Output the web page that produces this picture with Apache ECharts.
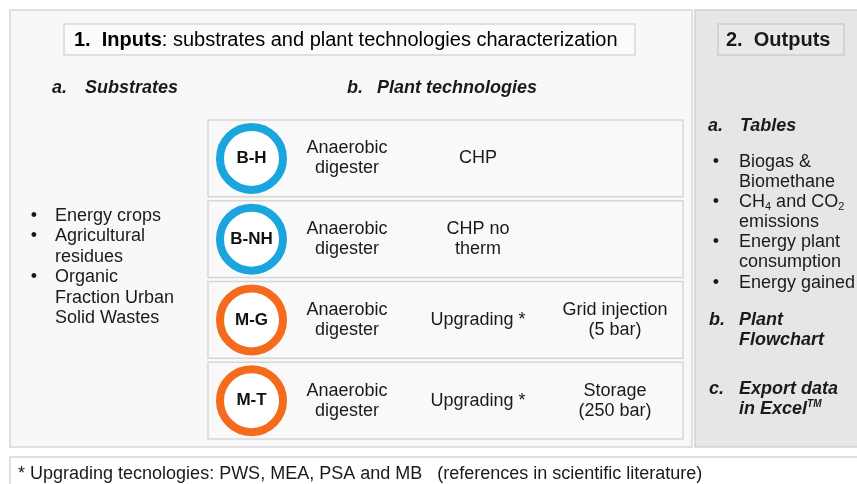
<!DOCTYPE html>
<html>
<head>
<meta charset="utf-8">
<script src="https://cdn.jsdelivr.net/npm/echarts@6/dist/echarts.min.js"></script>
<style>
  html, body { margin: 0; padding: 0; background: #ffffff; }
  #main { width: 857px; height: 484px; }
</style>
</head>
<body>
<div id="main"></div>
<script>
// plant technologies (one row each)
const plantCodes = ["B-H", "B-NH", "M-G", "M-T"];
const digesterText = ["Anaerobic\ndigester", "Anaerobic\ndigester", "Anaerobic\ndigester", "Anaerobic\ndigester"];
const processText = ["CHP", "CHP no\ntherm", "Upgrading *", "Upgrading *"];
const finalText = ["", "", "Grid injection\n(5 bar)", "Storage\n(250 bar)"];
const ringColors = ["#1aa5df", "#1aa5df", "#f46b1b", "#f46b1b"];

// substrates list
const substrates = ["Energy crops", "Agricultural\nresidues", "Organic\nFraction Urban\nSolid Wastes"];

// outputs
const outputTables = ["Biogas &\nBiomethane", "{n|CH}{s|4}{n| and CO}{s|2}\n{n|emissions}", "Energy plant\nconsumption", "Energy gained"];
const outputSections = [["b.", "Plant\nFlowchart"], ["c.", "Export data\n{n|in Excel}{t|TM}"]];

const footNote = "* Upgrading tecnologies: PWS, MEA, PSA and MB   (references in scientific literature)";

// column x positions inside the plant grid (px from grid left)
const colX = [43.5, 139, 270, 407];

const FONT = "Liberation Sans, Arial, sans-serif";
const TXT = "#1a1a1a";

const chart = echarts.init(document.getElementById("main"));

// 列表文字（逐行堆叠）
function listItems(items, bulletX, textX, y0, lh, rich) {
  let out = [];
  let line = 0;
  items.forEach((it) => {
    const y = y0 + line * lh;
    out.push({ type: "text", style: { text: "\u2022", x: bulletX, y: y, font: "18px " + FONT, fill: TXT, align: "center", verticalAlign: "middle" } });
    out.push({ type: "text", style: { text: it, x: textX, y: y - lh / 2, font: "18px " + FONT, fill: TXT, lineHeight: lh, verticalAlign: "top", rich: rich } });
    line += it.split("\n").length;
  });
  return out;
}

const richSub = {
  n: { fontSize: 18, fontFamily: FONT, color: TXT, lineHeight: 20 },
  s: { fontSize: 11, fontFamily: FONT, color: TXT, verticalAlign: "bottom", lineHeight: 11 },
};
const richOut = {
  n: { fontSize: 18, fontFamily: FONT, fontWeight: "bold", fontStyle: "italic", color: TXT, lineHeight: 20 },
  t: { fontSize: 10, fontFamily: FONT, fontWeight: "bold", fontStyle: "italic", color: TXT, verticalAlign: "top", lineHeight: 20 },
};

let graphics = [
  // panels
  { type: "rect", shape: { x: 10, y: 10, width: 682, height: 437 }, style: { fill: "#f8f8f8", stroke: "#d6d6d6", lineWidth: 1.5 } },
  { type: "rect", shape: { x: 695, y: 10, width: 175, height: 437 }, style: { fill: "#e6e6e6", stroke: "#d2d2d2", lineWidth: 1.5 } },
  { type: "rect", shape: { x: 64, y: 24, width: 571, height: 31 }, style: { fill: "#fbfbfb", stroke: "#d8d8d8", lineWidth: 1.5 } },
  { type: "rect", shape: { x: 718, y: 24, width: 126, height: 31 }, style: { fill: "#e9e9e9", stroke: "#cdcdcd", lineWidth: 1.5 } },
  { type: "rect", shape: { x: 10, y: 457, width: 870, height: 40 }, style: { fill: "#ffffff", stroke: "#d6d6d6", lineWidth: 1.5 } },
  // titles
  {
    type: "text",
    style: {
      text: "{b|1.  Inputs}{r|: substrates and plant technologies characterization}",
      x: 74, y: 40, verticalAlign: "middle",
      rich: {
        b: { fontSize: 20, fontFamily: FONT, fontWeight: "bold", color: TXT },
        r: { fontSize: 20, fontFamily: FONT, color: TXT },
      },
    },
  },
  { type: "text", style: { text: "2.  Outputs", x: 726, y: 40, verticalAlign: "middle", font: "bold 20px " + FONT, fill: TXT } },
  // section headers
  { type: "text", style: { text: "a.", x: 52, y: 88, verticalAlign: "middle", font: "italic bold 18px " + FONT, fill: TXT } },
  { type: "text", style: { text: "Substrates", x: 85, y: 88, verticalAlign: "middle", font: "italic bold 18px " + FONT, fill: TXT } },
  { type: "text", style: { text: "b.", x: 347, y: 88, verticalAlign: "middle", font: "italic bold 18px " + FONT, fill: TXT } },
  { type: "text", style: { text: "Plant technologies", x: 377, y: 88, verticalAlign: "middle", font: "italic bold 18px " + FONT, fill: TXT } },
  { type: "text", style: { text: "a.", x: 708, y: 126, verticalAlign: "middle", font: "italic bold 18px " + FONT, fill: TXT } },
  { type: "text", style: { text: "Tables", x: 740, y: 126, verticalAlign: "middle", font: "italic bold 18px " + FONT, fill: TXT } },
  // footnote
  { type: "text", style: { text: footNote, x: 18, y: 474, verticalAlign: "middle", font: "18px " + FONT, fill: TXT } },
];

graphics = graphics.concat(listItems(substrates, 34, 55, 216, 20.4, null));
graphics = graphics.concat(listItems(outputTables, 716, 739, 162, 20.1, richSub));

const sectionY = [320, 389];
outputSections.forEach((s, i) => {
  graphics.push({ type: "text", style: { text: s[0], x: 709, y: sectionY[i], verticalAlign: "middle", font: "italic bold 18px " + FONT, fill: TXT } });
  graphics.push({
    type: "text",
    style: { text: s[1], x: 739, y: sectionY[i] - 10, verticalAlign: "top", font: "italic bold 18px " + FONT, fill: TXT, lineHeight: 20, rich: richOut },
  });
});

function textSeries(texts, col) {
  return {
    type: "scatter",
    symbolSize: 1,
    itemStyle: { color: "rgba(0,0,0,0)", opacity: 1 },
    silent: true,
    z: 4,
    data: plantCodes.map((c, i) => [colX[col], c, texts[i]]),
    label: {
      show: true,
      position: "inside",
      formatter: (p) => p.data[2],
      fontSize: 18,
      fontFamily: FONT,
      color: TXT,
      opacity: 1,
      lineHeight: 20,
      align: "center",
    },
  };
}

const option = {
  backgroundColor: "#ffffff",
  animation: false,
  graphic: { elements: graphics },
  grid: { left: 208, top: 118, width: 475, height: 323 },
  xAxis: { type: "value", min: 0, max: 475, show: false },
  yAxis: { type: "category", data: plantCodes, inverse: true, show: false },
  series: [
    {
      // row boxes
      type: "custom",
      z: 1,
      silent: true,
      data: plantCodes.map((c) => [0, c]),
      renderItem: (params, api) => {
        const c = api.coord([0, api.value(1)]);
        const band = api.size([0, 1])[1];
        return {
          type: "rect",
          shape: { x: params.coordSys.x, y: c[1] - band / 2 + 2, width: params.coordSys.width, height: band - 4 },
          style: { fill: "#f9f9f9", stroke: "#d6d6d6", lineWidth: 1.5 },
        };
      },
    },
    {
      // technology rings
      type: "scatter",
      z: 3,
      silent: true,
      symbolSize: 63,
      data: plantCodes.map((c, i) => ({
        value: [colX[0], c],
        itemStyle: { color: "#ffffff", borderColor: ringColors[i], borderWidth: 8, opacity: 1 },
      })),
      label: {
        show: true,
        position: "inside",
        formatter: (p) => p.value[1],
        fontSize: 17,
        fontWeight: "bold",
        fontFamily: FONT,
        color: "#111111",
        opacity: 1,
      },
    },
    textSeries(digesterText, 1),
    textSeries(processText, 2),
    textSeries(finalText, 3),
  ],
};

chart.setOption(option);
</script>
</body>
</html>
